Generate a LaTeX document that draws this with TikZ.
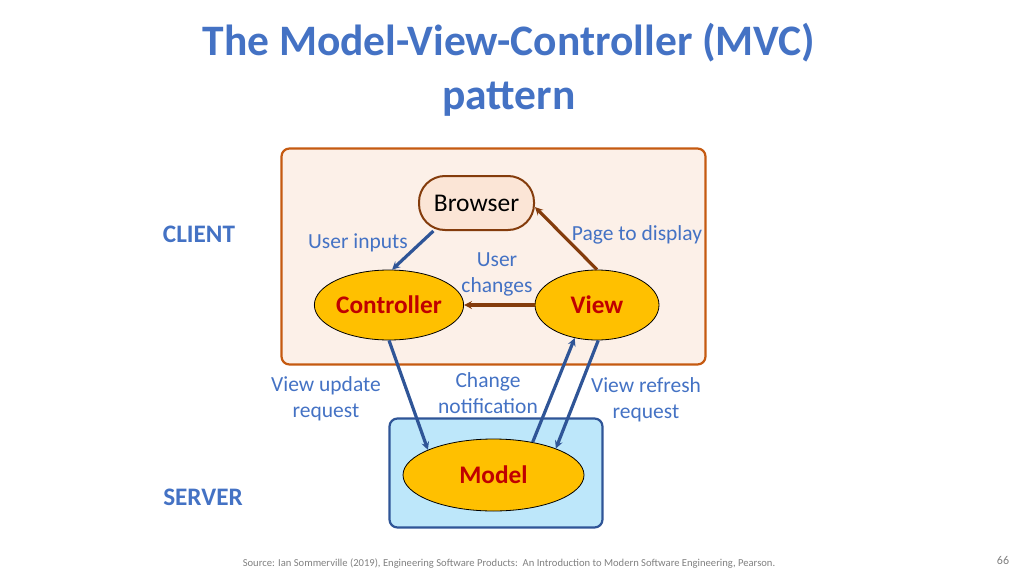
\documentclass[tikz,border=0pt]{standalone}
\usepackage{fontspec}
\setmainfont{Carlito}
\usetikzlibrary{arrows.meta,shapes.geometric}
\definecolor{titleblue}{HTML}{4472C4}
\definecolor{darkblue}{HTML}{2F5597}
\definecolor{brownline}{HTML}{843C0C}
\definecolor{clientborder}{HTML}{C55A11}
\definecolor{clientfill}{HTML}{FCF0E8}
\definecolor{browserfill}{HTML}{FBE5D6}
\definecolor{serverfill}{HTML}{BDE7FA}
\definecolor{ellfill}{HTML}{FFC000}
\definecolor{darkred}{HTML}{C00000}
\definecolor{srcgray}{HTML}{808080}
\tikzset{
  comp/.style={ellipse,draw=black,line width=0.8pt,fill=ellfill,inner sep=0pt,
    text=darkred,font=\fontsize{25.3}{27}\selectfont\bfseries},
  lbl/.style={text=titleblue,font=\fontsize{21.5}{26}\selectfont,align=center},
  side/.style={text=titleblue,font=\fontsize{25.2}{28}\selectfont\bfseries},
  bluearrow/.style={draw=darkblue,line width=3.2pt,-{Stealth[length=8pt,width=8pt,inset=3pt]}},
  brownarrow/.style={draw=brownline,line width=3.2pt,-{Stealth[length=8pt,width=8pt,inset=3pt]}},
}
\begin{document}
\begin{tikzpicture}[x=1pt,y=-1pt]
\useasboundingbox (0,0) rectangle (1024,575);
% title
\node[text=titleblue,font=\fontsize{43.5}{54}\selectfont\bfseries,align=center] (title) at (509,70)
  {The Model-View-Controller (MVC)\\pattern};
% client and server boxes
\node[draw=clientborder,fill=clientfill,line width=2.2pt,rounded corners=8pt,
  minimum width=424pt,minimum height=216pt] (client) at (493.5,256.5) {};
\node[draw=darkblue,fill=serverfill,line width=2.2pt,rounded corners=8pt,
  minimum width=213pt,minimum height=109pt] (server) at (496,473) {};
% side labels
\node[side] (clientlbl) at (199,234) {CLIENT};
\node[side] (serverlbl) at (203,497) {SERVER};
% components
\node[draw=brownline,fill=browserfill,line width=2pt,rounded corners=26pt,
  minimum width=115pt,minimum height=54pt,font=\fontsize{25.5}{27}\selectfont] (browser) at (476.5,203) {Browser};
\node[comp,minimum width=146pt,minimum height=70pt] (ctrl) at (389,305) {Controller};
\node[comp,minimum width=124pt,minimum height=70pt] (view) at (597,305) {View};
\node[comp,minimum width=181pt,minimum height=72pt] (model) at (493.5,475) {Model};
% connector labels
\node[lbl] (l1) at (358,243) {User inputs};
\node[lbl] (l2) at (637,235) {Page to display};
\node[lbl] (l3) at (497,274) {User\\changes};
\node[lbl] (l4) at (326,399) {View update\\request};
\node[lbl] (l5) at (488,393) {Change\\notification};
\node[lbl] (l6) at (646,400) {View refresh\\request};
% connectors
\draw[bluearrow] (browser.213) -- (ctrl.85);
\draw[brownarrow] (view.north) -- (browser.-4);
\draw[brownarrow] (view.west) -- (ctrl.east);
\draw[bluearrow] (ctrl.south) -- (model.159);
\draw[bluearrow] (model.40) -- (view.236);
\draw[bluearrow] (view.-88) -- (model.23);
% footer
\node[text=srcgray,font=\fontsize{10.6}{12}\selectfont] (source) at (509,564)
  {Source: Ian Sommerville (2019), Engineering Software Products:\ \ An Introduction to Modern Software Engineering, Pearson.};
\node[text=srcgray,font=\fontsize{12}{14}\selectfont] (page) at (1003,560) {66};
\end{tikzpicture}
\end{document}
